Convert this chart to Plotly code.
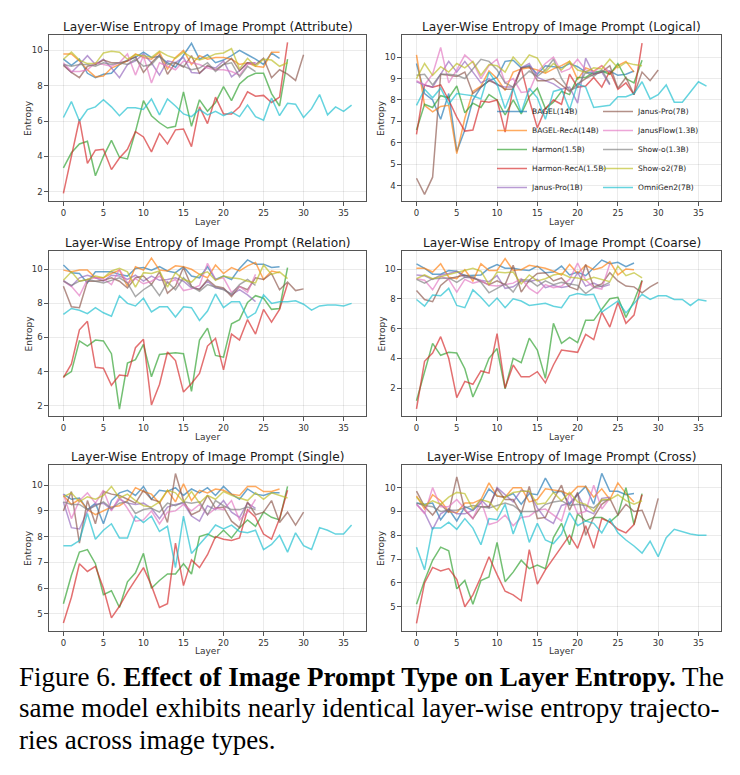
import plotly.graph_objects as go

W, H = 740, 775

model_names = ["BAGEL(14B)", "BAGEL-RecA(14B)", "Harmon(1.5B)", "Harmon-RecA(1.5B)", "Janus-Pro(1B)",
               "Janus-Pro(7B)", "JanusFlow(1.3B)", "Show-o(1.3B)", "Show-o2(7B)", "OmniGen2(7B)"]
model_colors = ["rgb(31,119,180)", "rgb(255,127,14)", "rgb(44,160,44)", "rgb(214,39,40)", "rgb(148,103,189)",
                "rgb(140,86,75)", "rgb(227,119,194)", "rgb(127,127,127)", "rgb(188,189,34)", "rgb(23,190,207)"]

panel_titles = ["Layer-Wise Entropy of Image Prompt (Attribute)", "Layer-Wise Entropy of Image Prompt (Logical)",
                "Layer-Wise Entropy of Image Prompt (Relation)", "Layer-Wise Entropy of Image Prompt (Coarse)",
                "Layer-Wise Entropy of Image Prompt (Single)", "Layer-Wise Entropy of Image Prompt (Cross)"]
x_ticks = [0, 5, 10, 15, 20, 25, 30, 35]

# ---------------- Attribute ----------------
att_bagel = [9.5, 9.15, 9.5, 8.7, 8.45, 8.65, 8.7, 9.2, 9.45, 9.6, 9.9, 9.6, 9.65, 9.3, 9.05, 9.75, 10.4, 9.5, 9.75, 9.3, 9.45, 9.7, 10.0, 9.75, 9.5, 9.2, 9.85, 9.55]
att_bagel_reca = [9.8, 9.8, 9.4, 8.9, 8.5, 8.55, 9.0, 9.2, 9.4, 9.8, 9.6, 9.5, 9.9, 8.95, 9.6, 10.0, 9.2, 9.7, 9.5, 9.6, 9.6, 9.5, 9.2, 9.3, 9.1, 9.05, 9.9, 9.9]
att_harmon = [3.35, 4.2, 4.7, 4.85, 2.9, 4.0, 4.9, 3.95, 3.85, 5.4, 7.15, 6.3, 5.9, 5.6, 5.7, 7.65, 5.7, 7.2, 6.55, 7.05, 7.95, 7.15, 8.1, 8.5, 8.7, 8.7, 7.55, 6.85, 9.5]
att_harmon_reca = [1.9, 4.1, 6.1, 3.6, 4.35, 4.4, 3.25, 3.9, 4.4, 5.4, 5.1, 4.25, 5.3, 4.7, 5.5, 5.55, 4.55, 6.8, 5.85, 7.35, 6.4, 6.4, 6.8, 7.65, 7.4, 7.45, 7.05, 7.35, 10.45]
att_janus1b = [9.2, 8.75, 9.2, 9.7, 9.2, 9.5, 9.0, 8.45, 9.2, 9.4, 9.8, 9.3, 8.6, 9.4, 9.3, 9.6, 8.75, 8.7, 9.1, 9.0, 9.4, 8.5, 8.85, 9.3, 9.3]
att_janus7b = [9.15, 8.75, 8.45, 9.1, 9.2, 9.45, 9.3, 9.3, 9.4, 9.65, 8.75, 9.3, 9.75, 8.65, 9.3, 9.05, 9.7, 8.7, 9.15, 8.9, 9.2, 9.55, 8.85, 9.3, 9.2, 9.55, 8.45, 8.9, 8.65, 8.3, 9.75]
att_janusflow = [9.3, 8.8, 8.8, 8.9, 9.3, 9.2, 9.1, 9.3, 9.8, 8.6, 9.7, 8.15, 9.3, 9.1, 8.9, 9.4, 9.3, 9.2, 9.0, 8.9, 8.9, 8.8, 8.6, 9.2, 9.3]
att_showo = [9.2, 9.1, 9.2, 9.2, 9.1, 9.3, 9.2, 9.3, 9.2, 9.5, 9.1, 9.2, 9.7, 9.2, 9.3, 9.1, 8.9, 9.0, 9.3, 8.8, 9.2, 9.3, 8.5, 9.1, 8.8]
att_showo2 = [9.5, 9.9, 9.45, 9.25, 9.25, 9.85, 9.95, 9.9, 9.5, 9.75, 9.7, 9.6, 9.95, 9.7, 9.55, 9.9, 9.6, 9.45, 9.6, 9.8, 9.85, 10.1, 8.95, 9.55, 9.1, 9.5, 9.45, 9.1, 9.3]
att_omnigen2 = [6.2, 7.1, 6.0, 6.65, 6.8, 7.2, 6.8, 6.3, 6.75, 6.75, 6.65, 7.25, 6.35, 7.25, 6.85, 6.4, 6.25, 6.65, 6.35, 6.55, 6.3, 6.5, 6.25, 6.9, 6.25, 6.05, 7.3, 6.3, 7.0, 6.95, 6.2, 6.7, 7.5, 6.35, 6.8, 6.55, 6.9]

# ---------------- Logical ----------------
log_bagel = [9.7, 8.3, 8.0, 7.1, 8.3, 5.6, 6.6, 8.0, 8.6, 8.9, 9.05, 9.8, 9.85, 9.5, 9.6, 9.2, 9.6, 9.55, 9.5, 9.7, 9.55, 9.3, 9.25, 9.3, 9.35, 9.15, 9.2, 9.35]
log_bagel_reca = [10.1, 7.75, 7.45, 7.7, 7.75, 5.5, 7.15, 8.4, 8.65, 9.35, 9.0, 8.45, 9.3, 9.45, 9.5, 9.4, 9.25, 9.45, 9.6, 9.8, 8.95, 9.5, 9.35, 9.6, 9.2, 9.6, 9.8, 9.3]
log_harmon = [6.6, 7.8, 7.65, 8.2, 8.1, 8.65, 7.4, 7.85, 7.65, 8.25, 8.0, 7.3, 8.0, 7.35, 8.15, 8.55, 7.6, 7.9, 8.4, 8.25, 9.05, 9.05, 9.3, 9.35, 9.2, 9.7, 9.0, 8.8, 9.85]
log_harmon_reca = [6.4, 8.7, 8.6, 8.7, 8.0, 7.2, 6.55, 6.6, 7.95, 7.9, 8.0, 6.5, 8.6, 9.5, 8.0, 6.7, 7.6, 8.0, 7.8, 9.2, 8.6, 8.65, 9.05, 8.6, 9.35, 8.5, 8.8, 8.25, 10.65]
log_janus1b = [8.85, 8.7, 8.6, 9.2, 9.8, 9.3, 9.8, 9.3, 8.8, 9.0, 8.7, 8.6, 8.6, 9.5, 9.7, 9.05, 8.9, 8.75, 8.5, 8.6, 7.85, 9.95, 9.2, 9.3, 8.7]
log_janus7b = [4.35, 3.6, 4.4, 9.2, 9.15, 9.1, 9.3, 8.3, 8.6, 8.9, 8.75, 8.5, 8.5, 9.5, 9.55, 8.9, 8.9, 9.0, 8.7, 8.4, 8.75, 9.0, 9.2, 9.3, 9.6, 8.55, 9.05, 8.25, 9.3, 8.9, 9.4]
log_janusflow = [8.9, 8.7, 9.2, 10.45, 8.8, 9.4, 10.1, 9.75, 9.0, 9.6, 9.9, 8.8, 9.0, 8.35, 8.4, 9.3, 9.7, 10.0, 9.3, 9.45, 9.9, 9.4, 9.3, 9.6, 9.3]
log_showo = [9.15, 9.2, 8.7, 9.2, 9.2, 9.15, 9.0, 9.45, 9.9, 9.8, 9.4, 8.8, 8.6, 9.0, 9.35, 9.1, 9.4, 9.9, 9.0, 8.45, 8.6, 9.3, 9.1, 9.4, 8.75]
log_showo2 = [9.0, 9.7, 9.15, 9.55, 9.3, 9.7, 9.5, 9.8, 9.15, 9.65, 9.6, 9.3, 10.0, 9.6, 10.1, 9.95, 9.3, 9.7, 9.4, 9.8, 9.4, 9.3, 9.5, 9.45, 9.9, 9.5, 9.75, 9.65, 9.6]
log_omnigen2 = [7.75, 8.5, 8.1, 8.55, 7.8, 8.3, 8.25, 8.2, 8.05, 9.3, 8.75, 7.6, 8.55, 7.4, 8.55, 8.1, 7.1, 8.4, 8.5, 7.55, 8.75, 8.6, 7.65, 7.7, 7.75, 8.15, 8.15, 8.3, 8.85, 8.05, 8.25, 8.7, 7.9, 7.9, 8.4, 8.85, 8.65]

# ---------------- Relation ----------------
rel_bagel = [10.25, 9.8, 9.75, 9.2, 9.85, 9.85, 9.85, 9.7, 9.6, 10.05, 10.1, 9.95, 10.15, 9.9, 9.8, 10.15, 9.6, 9.5, 10.15, 9.4, 9.6, 9.4, 10.05, 10.55, 10.3, 10.3, 10.1, 10.15]
rel_bagel_reca = [9.95, 9.85, 9.95, 9.95, 9.5, 9.5, 9.75, 9.95, 9.0, 10.15, 9.95, 10.65, 9.95, 9.9, 10.2, 10.15, 10.0, 9.7, 9.5, 10.25, 9.75, 10.1, 9.9, 10.2, 10.4, 9.4, 9.9, 9.8]
rel_harmon = [3.7, 4.0, 5.8, 5.5, 5.85, 5.8, 5.05, 1.8, 4.5, 4.7, 5.6, 3.7, 5.0, 5.05, 5.1, 5.05, 2.85, 5.85, 6.55, 4.95, 4.85, 6.8, 7.05, 8.05, 8.45, 8.3, 7.65, 7.7, 10.1]
rel_harmon_reca = [3.65, 4.45, 6.45, 6.95, 4.25, 4.2, 3.2, 3.8, 3.75, 5.4, 5.9, 2.05, 3.25, 5.15, 4.65, 2.8, 3.3, 3.9, 5.5, 5.95, 4.1, 6.2, 5.85, 7.05, 6.2, 7.65, 6.9, 7.65, 9.15]
rel_janus1b = [9.35, 9.0, 9.5, 9.65, 9.5, 9.3, 9.65, 9.6, 9.4, 9.65, 9.3, 9.6, 9.35, 9.4, 9.5, 9.3, 8.9, 8.85, 9.3, 8.9, 8.85, 8.5, 8.8, 8.5, 8.1]
rel_janus7b = [9.0, 7.8, 7.75, 9.3, 9.3, 9.35, 9.5, 9.3, 8.9, 9.5, 9.6, 9.1, 9.85, 8.6, 9.0, 10.1, 9.0, 8.8, 9.4, 9.0, 8.9, 8.4, 9.0, 8.8, 9.5, 9.4, 9.75, 8.8, 9.25, 8.75, 8.85]
rel_janusflow = [9.3, 9.0, 8.45, 9.4, 9.5, 9.45, 9.1, 10.0, 9.2, 9.45, 9.15, 9.3, 9.6, 9.2, 9.4, 8.75, 8.85, 9.05, 10.35, 9.4, 9.5, 8.65, 9.0, 8.65, 9.7]
rel_showo = [9.3, 9.05, 9.3, 9.4, 9.3, 9.2, 9.35, 9.5, 9.2, 8.4, 8.8, 9.1, 8.45, 9.25, 8.8, 9.5, 9.0, 8.7, 9.1, 8.95, 8.8, 8.55, 9.1, 9.4, 9.05]
rel_showo2 = [9.35, 9.85, 9.3, 9.4, 9.6, 9.5, 9.9, 10.05, 9.85, 8.95, 9.8, 9.75, 9.9, 8.95, 9.8, 9.4, 9.25, 9.7, 9.85, 9.35, 9.6, 9.5, 9.45, 9.3, 9.2, 10.25, 9.7, 9.85, 9.45]
rel_omnigen2 = [7.35, 7.7, 7.6, 7.4, 7.75, 7.45, 7.25, 8.45, 8.0, 7.85, 8.3, 7.5, 7.8, 7.8, 7.2, 7.8, 7.75, 7.0, 7.55, 8.55, 7.75, 8.1, 8.1, 7.15, 7.45, 8.5, 8.0, 8.1, 8.1, 8.15, 7.95, 7.6, 7.85, 7.9, 7.9, 7.85, 8.0]

# ---------------- Coarse ----------------
coa_bagel = [10.35, 10.05, 9.65, 9.65, 9.9, 9.85, 9.55, 9.55, 9.6, 10.05, 10.3, 10.05, 10.05, 9.95, 9.9, 10.2, 9.75, 9.8, 10.2, 9.6, 9.8, 9.55, 10.05, 10.6, 10.35, 10.45, 10.15, 10.4]
coa_bagel_reca = [10.05, 10.05, 9.8, 10.35, 9.45, 9.35, 9.95, 9.2, 10.35, 9.9, 9.9, 10.7, 9.9, 9.95, 10.25, 10.15, 10.05, 9.85, 9.6, 10.3, 9.7, 10.25, 9.95, 10.1, 10.5, 9.6, 10.0, 9.95]
coa_harmon = [1.15, 3.0, 5.0, 4.2, 4.4, 4.35, 3.3, 1.4, 2.6, 4.0, 4.65, 1.95, 4.0, 3.7, 5.35, 4.55, 2.65, 6.35, 5.0, 5.4, 5.05, 6.55, 6.55, 7.3, 8.0, 8.1, 6.75, 7.85, 9.25]
coa_harmon_reca = [0.6, 3.8, 4.35, 5.45, 4.0, 1.35, 2.45, 2.25, 3.15, 3.0, 5.65, 2.0, 3.55, 2.75, 2.75, 3.1, 2.35, 3.55, 4.55, 4.45, 4.4, 5.6, 5.25, 7.1, 6.1, 7.75, 6.35, 6.9, 9.2]
coa_janus1b = [9.6, 9.55, 9.3, 9.6, 9.7, 9.85, 9.45, 9.4, 9.25, 9.15, 9.55, 8.7, 8.8, 9.2, 9.15, 9.3, 8.75, 8.9, 8.75, 8.85, 9.75, 8.85, 9.05, 8.8, 8.95]
coa_janus7b = [8.55, 7.95, 7.8, 8.9, 9.35, 9.45, 9.6, 9.4, 9.2, 8.95, 9.2, 8.95, 10.25, 8.45, 9.25, 9.7, 9.75, 9.2, 9.4, 8.8, 8.6, 10.3, 8.8, 9.0, 9.75, 9.2, 8.85, 8.8, 8.4, 8.8, 9.1]
coa_janusflow = [9.35, 9.25, 8.6, 9.5, 9.3, 8.45, 9.3, 9.05, 9.2, 8.9, 8.85, 8.95, 9.05, 9.35, 8.7, 8.35, 8.95, 8.75, 8.85, 9.3, 10.4, 9.25, 8.75, 8.65, 10.35]
coa_showo = [9.3, 9.05, 9.35, 9.35, 9.4, 9.1, 9.45, 9.5, 9.1, 8.4, 8.7, 9.0, 8.45, 9.3, 9.25, 8.85, 9.2, 8.95, 9.1, 9.0, 8.9, 8.35, 8.75, 8.85, 9.1]
coa_showo2 = [9.35, 9.6, 9.35, 9.5, 9.65, 9.75, 9.9, 10.05, 9.85, 8.95, 9.8, 9.75, 9.8, 9.0, 9.6, 9.2, 9.35, 9.6, 9.7, 9.45, 9.4, 9.25, 9.45, 9.3, 9.15, 10.2, 9.55, 9.75, 9.4]
coa_omnigen2 = [7.95, 7.5, 8.25, 8.2, 8.7, 7.55, 7.4, 8.6, 8.1, 7.5, 8.05, 7.4, 8.0, 7.85, 7.55, 7.6, 7.7, 7.5, 7.4, 8.2, 8.35, 8.25, 8.3, 7.1, 7.5, 7.85, 7.05, 7.65, 8.3, 7.95, 8.2, 8.2, 7.95, 7.95, 7.55, 7.95, 7.85]

# ---------------- Single ----------------
sin_bagel = [9.65, 9.45, 9.5, 9.05, 9.3, 8.5, 9.4, 9.7, 9.8, 9.6, 9.95, 9.45, 9.8, 9.75, 9.9, 9.6, 9.85, 9.7, 9.9, 9.6, 9.95, 9.65, 9.45, 9.85, 9.65, 9.6, 9.7, 9.7]
sin_bagel_reca = [9.6, 9.25, 9.45, 9.05, 8.85, 9.0, 9.15, 9.2, 9.4, 9.9, 9.75, 9.65, 9.3, 9.8, 9.35, 10.05, 9.4, 9.8, 9.7, 9.85, 9.8, 9.65, 9.6, 9.95, 9.95, 9.75, 9.75, 9.85]
sin_harmon = [5.4, 6.5, 7.4, 7.5, 6.95, 5.75, 5.9, 5.25, 6.25, 6.6, 7.35, 6.0, 6.3, 6.55, 6.55, 6.95, 6.55, 8.0, 8.1, 7.95, 8.25, 7.95, 8.35, 8.65, 8.4, 8.95, 8.75, 8.65, 9.95]
sin_harmon_reca = [4.65, 5.65, 6.95, 6.65, 6.85, 6.0, 4.85, 5.3, 5.85, 6.35, 6.8, 6.1, 5.25, 5.4, 7.75, 6.1, 7.1, 6.8, 7.3, 8.0, 7.9, 7.85, 7.95, 9.05, 8.75, 8.1, 7.9, 8.7, 9.8]
sin_janus1b = [9.35, 8.35, 8.3, 9.0, 9.25, 9.3, 9.05, 9.45, 9.3, 9.25, 9.3, 9.1, 8.7, 9.15, 9.25, 9.3, 8.8, 8.6, 9.2, 9.05, 9.4, 8.95, 8.75, 9.3, 9.1]
sin_janus7b = [9.0, 9.75, 7.75, 9.4, 8.5, 9.75, 9.65, 9.6, 9.45, 9.3, 9.8, 9.45, 9.35, 8.55, 10.45, 9.4, 8.85, 9.0, 9.6, 9.1, 9.15, 8.6, 8.35, 9.35, 8.85, 8.95, 9.4, 8.55, 8.95, 8.45, 8.95]
sin_janusflow = [9.65, 8.7, 9.4, 9.7, 9.3, 9.8, 9.0, 9.55, 9.1, 8.6, 8.65, 9.0, 8.5, 8.95, 9.0, 9.25, 9.0, 9.25, 8.85, 9.1, 9.05, 9.4, 8.65, 8.95, 9.45]
sin_showo = [9.35, 9.25, 9.25, 9.05, 9.2, 9.35, 9.1, 9.3, 9.35, 8.9, 9.05, 9.1, 8.95, 9.3, 9.2, 9.35, 9.3, 9.35, 8.85, 9.4, 9.2, 9.05, 9.05, 9.15, 9.05]
sin_showo2 = [9.55, 9.7, 9.35, 9.55, 9.45, 9.6, 9.95, 9.5, 9.65, 9.4, 9.2, 9.15, 9.35, 9.8, 9.7, 9.35, 9.75, 9.3, 9.6, 9.45, 9.75, 9.6, 9.5, 9.4, 9.7, 9.45, 9.7, 9.6, 9.5]
sin_omnigen2 = [7.65, 7.65, 7.85, 8.9, 7.9, 8.25, 8.5, 7.95, 7.95, 8.8, 8.55, 8.8, 8.2, 8.4, 6.8, 8.8, 7.35, 7.7, 8.05, 8.45, 8.3, 8.45, 8.2, 8.15, 8.25, 7.5, 7.7, 8.05, 7.4, 8.15, 7.65, 7.5, 8.35, 8.25, 8.1, 8.1, 8.45]

# ---------------- Cross ----------------
cro_bagel = [9.35, 9.3, 9.35, 8.65, 9.1, 8.6, 9.2, 9.05, 9.35, 9.95, 9.65, 9.6, 9.75, 9.3, 9.75, 9.7, 10.4, 9.8, 9.85, 9.3, 9.7, 10.05, 9.3, 10.6, 9.85, 9.85, 9.7, 9.75]
cro_bagel_reca = [9.65, 9.1, 9.7, 9.45, 9.0, 8.95, 9.35, 9.35, 9.5, 10.2, 9.65, 9.6, 10.0, 10.0, 9.4, 9.5, 9.95, 9.9, 9.85, 9.7, 10.05, 10.05, 9.6, 9.95, 9.5, 10.2, 9.75, 9.4]
cro_harmon = [5.1, 6.1, 6.95, 7.5, 7.35, 5.75, 6.1, 5.1, 6.1, 6.25, 7.7, 6.05, 6.45, 6.95, 6.6, 6.75, 6.6, 7.9, 8.5, 7.6, 8.9, 8.6, 8.75, 8.75, 8.55, 8.85, 10.0, 8.45, 9.75]
cro_harmon_reca = [4.3, 6.0, 6.65, 6.5, 6.6, 6.15, 5.0, 5.5, 6.25, 7.1, 6.35, 5.65, 5.5, 5.25, 7.4, 5.95, 6.55, 7.05, 7.5, 8.0, 7.45, 8.4, 7.45, 8.7, 8.55, 8.25, 8.1, 8.45, 9.7]
cro_janus1b = [9.3, 8.95, 8.25, 8.9, 9.1, 8.9, 8.9, 9.05, 9.5, 9.15, 10.0, 9.7, 9.4, 9.9, 9.8, 9.15, 8.7, 8.5, 9.25, 9.35, 9.75, 9.05, 8.9, 9.55, 9.6]
cro_janus7b = [9.85, 9.2, 8.85, 9.3, 8.95, 10.45, 9.05, 8.7, 9.2, 9.2, 9.95, 9.5, 9.5, 8.9, 10.05, 8.7, 8.75, 9.5, 10.1, 9.05, 9.8, 8.0, 8.75, 9.3, 9.55, 8.85, 9.3, 9.0, 9.05, 8.25, 9.55]
cro_janusflow = [9.3, 8.9, 10.0, 9.2, 9.2, 9.5, 9.1, 8.7, 9.45, 8.45, 8.55, 8.85, 8.4, 8.75, 8.8, 9.05, 9.1, 8.85, 8.6, 9.75, 8.9, 9.0, 10.1, 9.1, 9.55]
cro_showo = [9.35, 9.25, 9.2, 9.0, 9.05, 9.05, 9.15, 9.25, 9.2, 9.15, 9.25, 9.35, 9.25, 9.0, 9.0, 9.0, 9.3, 9.4, 9.45, 9.25, 9.3, 9.25, 9.15, 9.45, 9.5]
cro_showo2 = [9.6, 9.25, 9.45, 9.3, 9.6, 9.8, 9.75, 9.1, 9.5, 9.4, 9.05, 9.6, 9.8, 9.85, 9.85, 9.3, 9.35, 9.8, 9.45, 9.8, 9.4, 9.3, 9.0, 9.5, 9.5, 9.7, 9.45, 9.3, 9.45]
cro_omnigen2 = [7.5, 6.55, 8.3, 8.3, 8.55, 8.25, 8.7, 8.3, 7.6, 8.7, 8.65, 9.3, 8.05, 8.95, 7.7, 8.5, 7.8, 7.65, 8.05, 8.95, 8.4, 8.6, 8.5, 8.1, 8.7, 8.1, 7.8, 7.55, 7.25, 7.75, 7.1, 7.9, 8.25, 8.15, 8.05, 8.0, 8.0]

panel_series = [
    [att_bagel, att_bagel_reca, att_harmon, att_harmon_reca, att_janus1b, att_janus7b, att_janusflow, att_showo, att_showo2, att_omnigen2],
    [log_bagel, log_bagel_reca, log_harmon, log_harmon_reca, log_janus1b, log_janus7b, log_janusflow, log_showo, log_showo2, log_omnigen2],
    [rel_bagel, rel_bagel_reca, rel_harmon, rel_harmon_reca, rel_janus1b, rel_janus7b, rel_janusflow, rel_showo, rel_showo2, rel_omnigen2],
    [coa_bagel, coa_bagel_reca, coa_harmon, coa_harmon_reca, coa_janus1b, coa_janus7b, coa_janusflow, coa_showo, coa_showo2, coa_omnigen2],
    [sin_bagel, sin_bagel_reca, sin_harmon, sin_harmon_reca, sin_janus1b, sin_janus7b, sin_janusflow, sin_showo, sin_showo2, sin_omnigen2],
    [cro_bagel, cro_bagel_reca, cro_harmon, cro_harmon_reca, cro_janus1b, cro_janus7b, cro_janusflow, cro_showo, cro_showo2, cro_omnigen2],
]
y_ranges = [[1.47, 10.87], [3.29, 11.03], [1.40, 11.07], [0.12, 11.21], [4.34, 10.78], [3.98, 10.95]]
y_ticks = [[2, 4, 6, 8, 10], [4, 5, 6, 7, 8, 9, 10], [2, 4, 6, 8, 10], [2, 4, 6, 8, 10],
           [5, 6, 7, 8, 9, 10], [5, 6, 7, 8, 9, 10]]

# pixel boxes of plot areas (left, right, top, bottom)
col_x = [(49, 366), (402, 721)]
row_y = [(35, 201), (251, 416), (465, 631)]
title_y = [27, 243, 457]
xlabel_y = [222, 437, 651]
ylabel_x = [28, 381]

def px(xp):
    return xp / W

def py(yp):
    return 1 - yp / H

fig = go.Figure()
axis_color = "#555555"
annotations = []

for p in range(6):
    r, c = divmod(p, 2)
    sfx = "" if p == 0 else str(p + 1)
    (x0, x1), (y0, y1) = col_x[c], row_y[r]
    for k, vals in enumerate(panel_series[p]):
        showleg = (p == 1)
        fig.add_trace(go.Scatter(
            x=list(range(len(vals))), y=vals, mode="lines", name=model_names[k],
            line=dict(color=model_colors[k], width=1.5), opacity=0.66,
            xaxis="x" + sfx, yaxis="y" + sfx, showlegend=showleg,
            legend=("legend" if k < 5 else "legend2"), hoverinfo="skip"))
    common = dict(showline=True, mirror=True, linecolor=axis_color, linewidth=1.2,
                  ticks="outside", ticklen=3.5, tickwidth=0.8, tickcolor=axis_color,
                  showgrid=True, gridcolor="rgba(0,0,0,0.08)", gridwidth=0.8, zeroline=False,
                  tickfont=dict(family="DejaVu Sans", size=8.5, color="#333333"))
    fig.layout["xaxis" + sfx] = dict(domain=[px(x0), px(x1)], anchor="y" + sfx, range=[-1.8, 37.8],
                                     tickvals=x_ticks, **common)
    fig.layout["yaxis" + sfx] = dict(domain=[py(y1), py(y0)], anchor="x" + sfx, range=y_ranges[p],
                                     tickvals=y_ticks[p], **common)
    annotations.append(dict(text=panel_titles[p], x=px((x0 + x1) / 2), y=py(title_y[r]), xref="paper", yref="paper",
                            xanchor="center", yanchor="middle", showarrow=False,
                            font=dict(family="DejaVu Sans", size=12.2, color="#1a1a1a")))
    annotations.append(dict(text="Layer", x=px((x0 + x1) / 2), y=py(xlabel_y[r]), xref="paper", yref="paper",
                            xanchor="center", yanchor="middle", showarrow=False,
                            font=dict(family="DejaVu Sans", size=9, color="#333333")))
    annotations.append(dict(text="Entropy", x=px(ylabel_x[c]), y=py((y0 + y1) / 2), xref="paper", yref="paper",
                            xanchor="center", yanchor="middle", showarrow=False, textangle=-90,
                            font=dict(family="DejaVu Sans", size=9, color="#333333")))

cap_font = dict(family="Liberation Serif", size=27, color="#000000")
caption_lines = [
    ("Figure 6. <b>Effect of Image Prompt Type on Layer Entropy.</b> The", 677),
    ("same model exhibits nearly identical layer-wise entropy trajecto-", 708),
    ("ries across image types.", 740),
]
for txt, yy in caption_lines:
    annotations.append(dict(text=txt, x=px(17), y=py(yy), xref="paper", yref="paper", xanchor="left",
                            yanchor="middle", showarrow=False, font=cap_font))

leg_common = dict(font=dict(family="DejaVu Sans", size=7.5, color="#222222"), bgcolor="rgba(255,255,255,0)",
                  borderwidth=0, yanchor="bottom", xanchor="left", tracegroupgap=0, itemwidth=30)
fig.update_layout(
    width=W, height=H, margin=dict(l=0, r=0, t=0, b=0),
    paper_bgcolor="white", plot_bgcolor="white",
    annotations=annotations,
    legend=dict(x=px(492), y=py(202), **leg_common),
    legend2=dict(x=px(598), y=py(202), **leg_common),
)
fig.write_html("out.html")
